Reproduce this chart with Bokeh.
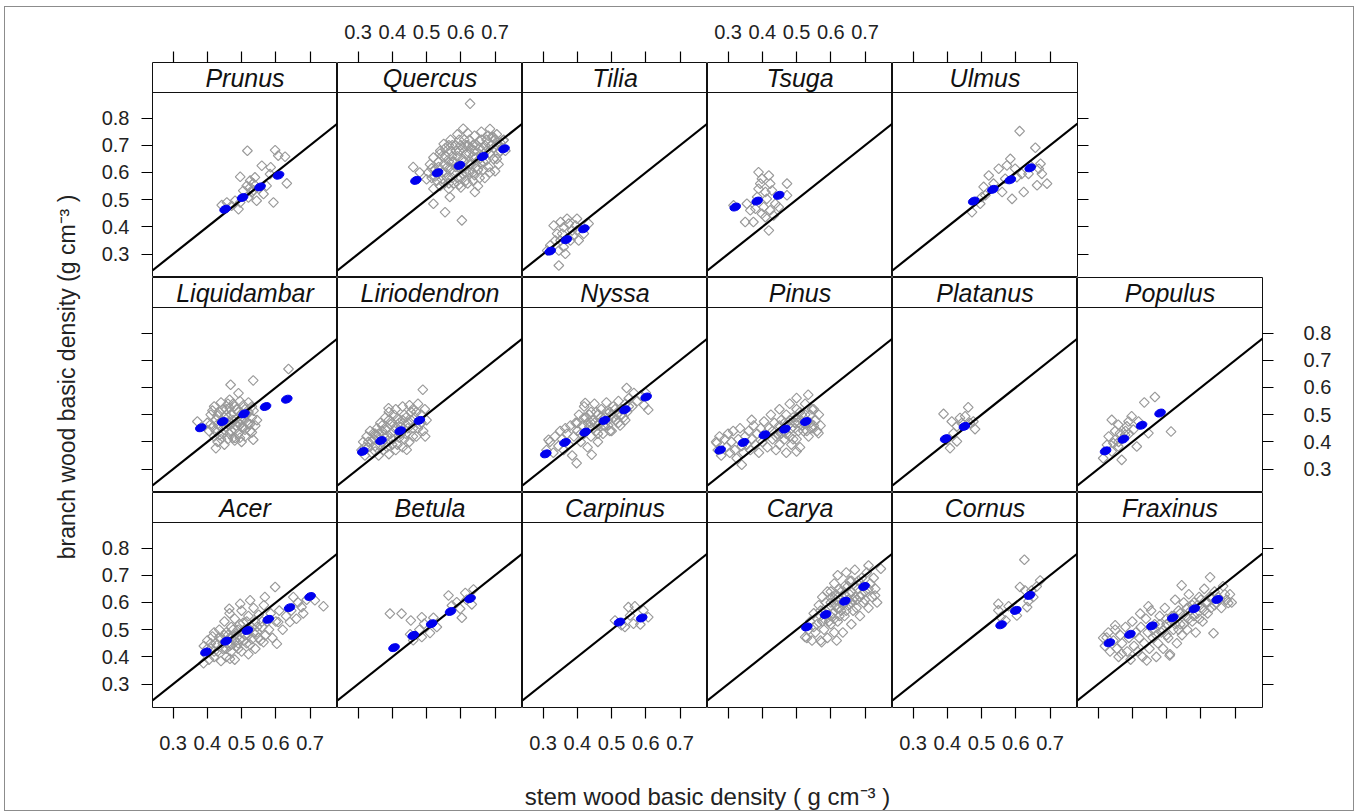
import math
from bokeh.plotting import figure
from bokeh.layouts import row, column
from bokeh.models import Range1d, LinearAxis, FixedTicker, Span, Label, AllLabels
from bokeh.embed import file_html
from bokeh.resources import INLINE

# ---------------- data ----------------
X_TICKS = [0.3, 0.4, 0.5, 0.6, 0.7]
X_TICK_LABELS = ["0.3", "0.4", "0.5", "0.6", "0.7"]
Y_TICKS = [0.3, 0.4, 0.5, 0.6, 0.7, 0.8]
Y_TICK_LABELS = ["0.3", "0.4", "0.5", "0.6", "0.7", "0.8"]
X_TITLE = "stem wood basic density ( g cm\u207b\u00b3 )"
Y_TITLE = "branch wood basic density (g cm\u207b\u00b3 )"

PANEL_ROWS = [
    ["Prunus", "Quercus", "Tilia", "Tsuga", "Ulmus"],
    ["Liquidambar", "Liriodendron", "Nyssa", "Pinus", "Platanus", "Populus"],
    ["Acer", "Betula", "Carpinus", "Carya", "Cornus", "Fraxinus"],
]

PRUNUS_GRAY = [(0.517,0.680),(0.598,0.682),(0.627,0.658),(0.607,0.662),(0.559,0.625),(0.585,0.619),
               (0.496,0.584),(0.525,0.570),(0.534,0.560),(0.515,0.551),(0.481,0.496),(0.471,0.478),
               (0.491,0.465),(0.544,0.496),(0.593,0.490),(0.632,0.560),(0.573,0.551),(0.442,0.480),
               (0.530,0.527),(0.564,0.521),(0.583,0.594),(0.505,0.533),(0.520,0.508),(0.496,0.490),
               (0.457,0.490),(0.539,0.582),(0.525,0.545),(0.535,0.535),(0.550,0.540)]
PRUNUS_BLUE = [(0.452,0.465),(0.503,0.508),(0.554,0.547),(0.608,0.590)]

QUERCUS_GRAY = [(0.627,0.853),(0.461,0.620),(0.554,0.454),(0.603,0.424),(0.520,0.485),(0.641,0.528),
                (0.568,0.510),(0.607,0.761),(0.539,0.669),(0.695,0.730),(0.724,0.718),(0.480,0.600),
                (0.505,0.600),(0.510,0.630),(0.515,0.580),(0.520,0.655),(0.525,0.610),(0.500,0.575),
                (0.530,0.570),(0.520,0.540),(0.535,0.640),(0.540,0.680),(0.545,0.600),(0.550,0.560),
                (0.550,0.705),(0.555,0.660),(0.560,0.620),(0.560,0.580),(0.565,0.540),(0.540,0.550),
                (0.570,0.720),(0.570,0.680),(0.575,0.640),(0.580,0.600),(0.580,0.560),(0.585,0.700),
                (0.590,0.740),(0.590,0.660),(0.595,0.620),(0.600,0.580),(0.600,0.545),(0.605,0.690),
                (0.610,0.720),(0.610,0.640),(0.615,0.600),(0.620,0.560),(0.620,0.745),(0.625,0.670),
                (0.630,0.630),(0.635,0.700),(0.640,0.590),(0.640,0.735),(0.645,0.655),(0.650,0.550),
                (0.650,0.610),(0.655,0.690),(0.660,0.750),(0.660,0.720),(0.665,0.640),(0.670,0.580),
                (0.675,0.680),(0.680,0.620),(0.680,0.735),(0.690,0.700),(0.695,0.650),(0.700,0.605),
                (0.705,0.740),(0.710,0.670),(0.715,0.710),(0.720,0.690),(0.725,0.720),(0.730,0.680),
                (0.700,0.720),(0.685,0.760),(0.590,0.580),(0.625,0.600),(0.600,0.700),(0.570,0.610),
                (0.640,0.680),(0.660,0.660),(0.550,0.630),(0.530,0.600),(0.615,0.665),(0.635,0.570),
                (0.575,0.660),(0.605,0.615),(0.655,0.715),(0.670,0.700),(0.620,0.700),(0.565,0.700),
                (0.690,0.730),(0.710,0.630),(0.515,0.615),(0.525,0.585),(0.535,0.620),(0.545,0.660),
                (0.545,0.575),(0.555,0.600),(0.555,0.690),(0.565,0.640),(0.565,0.560),(0.575,0.700),
                (0.575,0.580),(0.585,0.620),(0.585,0.680),(0.595,0.720),(0.595,0.555),(0.605,0.650),
                (0.605,0.595),(0.615,0.700),(0.615,0.570),(0.625,0.630),(0.625,0.720),(0.635,0.600),
                (0.635,0.660),(0.645,0.700),(0.645,0.620),(0.655,0.580),(0.655,0.650),(0.665,0.690),
                (0.665,0.610),(0.675,0.645),(0.675,0.720),(0.685,0.670),(0.685,0.600),(0.695,0.690),
                (0.705,0.650),(0.705,0.700),(0.715,0.680),(0.595,0.680),(0.630,0.690),(0.580,0.640),
                (0.660,0.630)]
QUERCUS_BLUE = [(0.469,0.571),(0.532,0.599),(0.596,0.626),(0.664,0.659),(0.726,0.687)]

TILIA_GRAY = [(0.346,0.258),(0.399,0.430),(0.370,0.430),(0.351,0.418),(0.331,0.405),(0.360,0.399),
              (0.385,0.387),(0.341,0.375),(0.380,0.350),(0.404,0.350),(0.360,0.326),(0.365,0.301),
              (0.321,0.332),(0.312,0.313),(0.351,0.350),(0.433,0.412),(0.399,0.387),(0.375,0.412),
              (0.389,0.369),(0.346,0.313),(0.336,0.350),(0.356,0.375),(0.395,0.405),(0.419,0.375)]
TILIA_BLUE = [(0.321,0.311),(0.368,0.353),(0.419,0.393)]

TSUGA_GRAY = [(0.419,0.589),(0.399,0.577),(0.394,0.559),(0.423,0.559),(0.389,0.540),(0.409,0.528),
              (0.428,0.534),(0.472,0.559),(0.385,0.510),(0.413,0.503),(0.438,0.485),(0.404,0.473),
              (0.355,0.485),(0.423,0.461),(0.399,0.448),(0.433,0.442),(0.350,0.418),(0.374,0.418),
              (0.419,0.387),(0.472,0.516),(0.365,0.461),(0.316,0.479),(0.448,0.473),(0.409,0.436),
              (0.389,0.601),(0.380,0.467)]
TSUGA_BLUE = [(0.321,0.473),(0.385,0.495),(0.448,0.516)]

ULMUS_GRAY = [(0.611,0.752),(0.657,0.691),(0.584,0.650),(0.550,0.614),(0.521,0.589),(0.574,0.626),
              (0.598,0.614),(0.617,0.595),(0.672,0.632),(0.676,0.595),(0.691,0.559),(0.662,0.553),
              (0.623,0.528),(0.589,0.503),(0.560,0.528),(0.535,0.559),(0.506,0.547),(0.501,0.510),
              (0.472,0.454),(0.511,0.516),(0.637,0.595),(0.569,0.577),(0.642,0.626),(0.603,0.583),
              (0.667,0.614),(0.496,0.485)]
ULMUS_BLUE = [(0.477,0.495),(0.533,0.538),(0.584,0.573),(0.642,0.617)]

LIQUIDAMBAR_GRAY = [(0.371,0.475),(0.468,0.610),(0.534,0.626),(0.491,0.579),(0.637,0.668),(0.425,0.377),
                    (0.534,0.408),(0.481,0.414),(0.400,0.470),(0.405,0.440),(0.410,0.500),(0.415,0.455),
                    (0.420,0.420),(0.420,0.530),(0.425,0.480),(0.430,0.400),(0.435,0.510),(0.440,0.455),
                    (0.440,0.545),(0.445,0.430),(0.450,0.490),(0.450,0.390),(0.455,0.520),(0.460,0.465),
                    (0.460,0.410),(0.465,0.555),(0.470,0.500),(0.470,0.440),(0.475,0.480),(0.480,0.530),
                    (0.480,0.405),(0.485,0.460),(0.490,0.510),(0.490,0.430),(0.495,0.550),(0.500,0.480),
                    (0.500,0.400),(0.505,0.455),(0.510,0.520),(0.510,0.420),(0.515,0.500),(0.520,0.465),
                    (0.520,0.545),(0.525,0.440),(0.530,0.490),(0.535,0.515),(0.540,0.460),(0.545,0.480),
                    (0.430,0.465),(0.455,0.455),(0.465,0.525),(0.495,0.465),(0.475,0.415),(0.505,0.535),
                    (0.435,0.425),(0.500,0.505),(0.455,0.500),(0.485,0.485),(0.410,0.465),(0.425,0.440),
                    (0.430,0.495),(0.440,0.475),(0.445,0.520),(0.450,0.445),(0.460,0.490),(0.465,0.430),
                    (0.470,0.465),(0.475,0.540),(0.480,0.445),(0.485,0.520),(0.490,0.470),(0.495,0.415),
                    (0.500,0.455),(0.505,0.490),(0.510,0.445),(0.515,0.475),(0.520,0.510),(0.525,0.465),
                    (0.530,0.435),(0.460,0.540),(0.440,0.410),(0.415,0.515),(0.530,0.530)]
LIQUIDAMBAR_BLUE = [(0.381,0.452),(0.445,0.475),(0.507,0.503),(0.570,0.530),(0.632,0.557)]

LIRIODENDRON_GRAY = [(0.489,0.592),(0.496,0.420),(0.442,0.371),(0.389,0.524),(0.345,0.432),
                     (0.310,0.370),(0.315,0.400),(0.320,0.350),(0.325,0.420),(0.330,0.380),(0.335,0.440),
                     (0.340,0.360),(0.345,0.410),(0.350,0.385),(0.355,0.450),(0.360,0.350),(0.360,0.430),
                     (0.365,0.470),(0.370,0.400),(0.375,0.370),(0.380,0.490),(0.380,0.445),(0.385,0.420),
                     (0.390,0.355),(0.390,0.510),(0.395,0.465),(0.400,0.390),(0.405,0.440),(0.410,0.520),
                     (0.410,0.370),(0.415,0.485),(0.420,0.415),(0.425,0.455),(0.430,0.530),(0.430,0.380),
                     (0.435,0.500),(0.440,0.430),(0.445,0.470),(0.450,0.400),(0.450,0.535),(0.455,0.510),
                     (0.460,0.450),(0.465,0.490),(0.470,0.420),(0.475,0.540),(0.480,0.465),(0.485,0.500),
                     (0.490,0.440),(0.495,0.520),(0.500,0.480),(0.350,0.430),(0.400,0.410),(0.420,0.470),
                     (0.440,0.490),(0.370,0.440),(0.330,0.400),(0.460,0.520),(0.390,0.480),(0.340,0.400),
                     (0.350,0.365),(0.355,0.420),(0.365,0.390),(0.370,0.460),(0.375,0.425),(0.385,0.380),
                     (0.395,0.430),(0.400,0.470),(0.405,0.500),(0.410,0.455),(0.415,0.390),(0.425,0.430),
                     (0.430,0.480),(0.435,0.410),(0.445,0.450),(0.455,0.480),(0.460,0.420),(0.470,0.510),
                     (0.475,0.450),(0.485,0.470),(0.320,0.380)]
LIRIODENDRON_BLUE = [(0.314,0.365),(0.367,0.405),(0.423,0.441),(0.479,0.479)]

NYSSA_GRAY = [(0.544,0.598),(0.607,0.518),(0.398,0.322),(0.442,0.353),(0.316,0.408),(0.423,0.543),
              (0.310,0.370),(0.320,0.400),(0.330,0.360),(0.335,0.420),(0.345,0.385),(0.350,0.440),
              (0.355,0.410),(0.360,0.370),(0.365,0.450),(0.370,0.430),(0.375,0.390),(0.380,0.460),
              (0.385,0.350),(0.390,0.420),(0.395,0.470),(0.400,0.440),(0.405,0.500),(0.410,0.400),
              (0.415,0.460),(0.420,0.530),(0.420,0.430),(0.425,0.490),(0.430,0.380),(0.435,0.455),
              (0.440,0.510),(0.440,0.420),(0.445,0.480),(0.450,0.540),(0.455,0.440),(0.460,0.500),
              (0.460,0.400),(0.465,0.470),(0.470,0.520),(0.475,0.430),(0.480,0.490),(0.485,0.545),
              (0.490,0.460),(0.495,0.510),(0.500,0.440),(0.505,0.530),(0.510,0.480),(0.515,0.500),
              (0.520,0.550),(0.525,0.460),(0.530,0.520),(0.535,0.490),(0.540,0.540),(0.545,0.510),
              (0.550,0.560),(0.560,0.530),(0.565,0.580),(0.575,0.550),(0.585,0.570),(0.595,0.535),
              (0.600,0.580),(0.420,0.490),(0.450,0.470),(0.480,0.460),(0.500,0.500),(0.400,0.470),
              (0.410,0.430),(0.430,0.470),(0.435,0.500),(0.445,0.450),(0.455,0.510),(0.460,0.430),
              (0.470,0.490),(0.475,0.460),(0.485,0.510),(0.490,0.480),(0.495,0.440),(0.505,0.490),
              (0.510,0.520),(0.520,0.470),(0.530,0.500),(0.540,0.480),(0.550,0.530),(0.460,0.460),
              (0.440,0.470)]
NYSSA_BLUE = [(0.308,0.356),(0.364,0.398),(0.423,0.436),(0.479,0.479),(0.539,0.518),(0.601,0.565)]

PINUS_GRAY = [(0.500,0.561),(0.534,0.573),(0.340,0.316),(0.500,0.365),(0.564,0.432),(0.267,0.396),
              (0.369,0.481),(0.265,0.400),(0.270,0.370),(0.275,0.420),(0.280,0.350),(0.290,0.410),
              (0.295,0.380),(0.300,0.430),(0.305,0.360),(0.310,0.400),(0.315,0.440),(0.320,0.370),
              (0.325,0.340),(0.330,0.410),(0.335,0.450),(0.340,0.385),(0.345,0.360),(0.350,0.420),
              (0.355,0.390),(0.360,0.440),(0.365,0.370),(0.370,0.410),(0.375,0.460),(0.380,0.390),
              (0.385,0.430),(0.390,0.360),(0.395,0.450),(0.400,0.400),(0.405,0.475),(0.410,0.420),
              (0.415,0.380),(0.420,0.450),(0.425,0.500),(0.430,0.410),(0.435,0.470),(0.440,0.370),
              (0.445,0.430),(0.450,0.520),(0.450,0.390),(0.455,0.480),(0.460,0.440),(0.465,0.410),
              (0.470,0.500),(0.470,0.360),(0.475,0.460),(0.480,0.540),(0.480,0.420),(0.485,0.390),
              (0.490,0.490),(0.495,0.450),(0.500,0.520),(0.500,0.410),(0.505,0.470),(0.510,0.380),
              (0.515,0.500),(0.520,0.440),(0.525,0.540),(0.530,0.470),(0.535,0.420),(0.540,0.500),
              (0.545,0.450),(0.550,0.520),(0.555,0.480),(0.560,0.440),(0.565,0.500),(0.570,0.460),
              (0.430,0.440),(0.440,0.420),(0.450,0.460),(0.455,0.430),(0.465,0.470),(0.470,0.430),
              (0.480,0.480),(0.485,0.450),(0.490,0.410),(0.500,0.490),(0.505,0.440),(0.510,0.510),
              (0.520,0.470),(0.525,0.500),(0.530,0.440),(0.540,0.470),(0.545,0.520),(0.550,0.460),
              (0.495,0.470),(0.515,0.460)]
PINUS_BLUE = [(0.277,0.370),(0.345,0.398),(0.406,0.426),(0.466,0.447),(0.527,0.475)]

PLATANUS_GRAY = [(0.389,0.503),(0.461,0.527),(0.413,0.475),(0.437,0.488),(0.428,0.457),(0.466,0.469),
                 (0.481,0.447),(0.408,0.377),(0.428,0.402),(0.452,0.494),(0.476,0.475),(0.442,0.469),
                 (0.418,0.432),(0.398,0.408)]
PLATANUS_BLUE = [(0.395,0.412),(0.450,0.457)]

POPULUS_GRAY = [(0.466,0.565),(0.435,0.545),(0.513,0.438),(0.340,0.481),(0.359,0.463),(0.398,0.494),
                (0.384,0.457),(0.364,0.432),(0.331,0.420),(0.350,0.408),(0.326,0.389),(0.369,0.334),
                (0.413,0.383),(0.447,0.432),(0.359,0.383),(0.340,0.365),(0.379,0.426),(0.403,0.445),
                (0.315,0.340),(0.418,0.475),(0.389,0.475),(0.350,0.440),(0.370,0.410),(0.360,0.400),
                (0.380,0.440),(0.390,0.430),(0.345,0.395)]
POPULUS_BLUE = [(0.322,0.367),(0.374,0.410),(0.427,0.461),(0.481,0.506)]

ACER_GRAY = [(0.598,0.657),(0.464,0.577),(0.525,0.608),(0.568,0.620),(0.603,0.448),(0.739,0.586),
             (0.714,0.608),(0.675,0.583),(0.641,0.528),(0.607,0.528),(0.564,0.454),(0.466,0.393),
             (0.389,0.377),(0.496,0.595),(0.651,0.620),(0.390,0.440),(0.395,0.410),(0.400,0.460),
             (0.405,0.390),(0.410,0.430),(0.415,0.475),(0.420,0.400),(0.425,0.450),(0.430,0.420),
             (0.435,0.500),(0.440,0.385),(0.440,0.465),(0.445,0.430),(0.450,0.530),(0.455,0.400),
             (0.455,0.490),(0.460,0.450),(0.465,0.560),(0.470,0.420),(0.470,0.510),(0.475,0.475),
             (0.480,0.390),(0.480,0.540),(0.485,0.440),(0.490,0.500),(0.495,0.465),(0.500,0.570),
             (0.500,0.420),(0.505,0.525),(0.510,0.480),(0.515,0.450),(0.520,0.550),(0.520,0.410),
             (0.525,0.500),(0.530,0.465),(0.535,0.580),(0.540,0.430),(0.540,0.530),(0.545,0.490),
             (0.550,0.555),(0.555,0.460),(0.560,0.510),(0.565,0.590),(0.570,0.480),(0.575,0.530),
             (0.580,0.500),(0.585,0.560),(0.590,0.470),(0.600,0.530),(0.610,0.570),(0.620,0.500),
             (0.630,0.550),(0.645,0.570),(0.660,0.540),(0.665,0.600),(0.680,0.560),(0.690,0.610),
             (0.420,0.490),(0.460,0.480),(0.490,0.450),(0.500,0.490),(0.530,0.510),(0.400,0.430),
             (0.410,0.450),(0.420,0.420),(0.430,0.445),(0.435,0.470),(0.445,0.450),(0.450,0.480),
             (0.455,0.430),(0.465,0.470),(0.470,0.445),(0.475,0.500),(0.480,0.460),(0.485,0.485),
             (0.490,0.430),(0.495,0.520),(0.505,0.460),(0.510,0.500),(0.515,0.530),(0.520,0.480),
             (0.525,0.445),(0.535,0.490),(0.545,0.510),(0.550,0.470),(0.560,0.530),(0.465,0.440)]
ACER_BLUE = [(0.396,0.418),(0.455,0.458),(0.517,0.497),(0.578,0.538),(0.640,0.581),(0.700,0.622)]

BETULA_GRAY = [(0.393,0.559),(0.427,0.559),(0.454,0.534),(0.486,0.546),(0.452,0.483),(0.479,0.500),
               (0.493,0.522),(0.520,0.544),(0.510,0.488),(0.486,0.473),(0.564,0.626),(0.588,0.601),
               (0.603,0.544),(0.613,0.635),(0.637,0.648),(0.632,0.593),(0.574,0.589),(0.598,0.577),
               (0.530,0.510),(0.461,0.461),(0.617,0.610)]
BETULA_BLUE = [(0.405,0.434),(0.461,0.479),(0.515,0.522),(0.570,0.567),(0.627,0.614)]

CARPINUS_GRAY = [(0.549,0.583),(0.568,0.586),(0.593,0.571),(0.510,0.534),(0.539,0.510),(0.564,0.522),
                 (0.607,0.546),(0.584,0.519),(0.554,0.552),(0.529,0.516)]
CARPINUS_BLUE = [(0.523,0.528),(0.588,0.543)]

CARYA_GRAY = [(0.746,0.724),(0.710,0.736),(0.525,0.473),(0.573,0.454),(0.617,0.460),(0.729,0.626),
              (0.530,0.470),(0.535,0.500),(0.540,0.530),(0.545,0.460),(0.550,0.560),(0.555,0.490),
              (0.560,0.520),(0.565,0.590),(0.570,0.460),(0.570,0.550),(0.575,0.620),(0.580,0.500),
              (0.585,0.570),(0.590,0.470),(0.590,0.640),(0.595,0.530),(0.600,0.600),(0.605,0.560),
              (0.610,0.490),(0.610,0.670),(0.615,0.630),(0.620,0.530),(0.620,0.700),(0.625,0.580),
              (0.630,0.610),(0.635,0.490),(0.640,0.660),(0.640,0.550),(0.645,0.710),(0.650,0.590),
              (0.655,0.630),(0.660,0.520),(0.660,0.680),(0.665,0.570),(0.670,0.720),(0.675,0.610),
              (0.680,0.650),(0.685,0.550),(0.690,0.690),(0.695,0.600),(0.700,0.640),(0.705,0.710),
              (0.710,0.580),(0.715,0.670),(0.720,0.620),(0.725,0.690),(0.730,0.650),(0.735,0.600),
              (0.600,0.520),(0.580,0.540),(0.630,0.570),(0.650,0.660),(0.670,0.620),(0.600,0.640),
              (0.625,0.650),(0.550,0.510),(0.690,0.630),(0.640,0.600),(0.615,0.590),(0.660,0.600),
              (0.575,0.530),(0.585,0.600),(0.595,0.580),(0.600,0.550),(0.605,0.620),(0.610,0.540),
              (0.615,0.610),(0.620,0.580),(0.625,0.550),(0.630,0.640),(0.635,0.590),(0.640,0.630),
              (0.645,0.570),(0.650,0.610),(0.655,0.680),(0.660,0.640),(0.665,0.610),(0.670,0.660),
              (0.675,0.580),(0.680,0.680),(0.685,0.620),(0.695,0.660),(0.700,0.610),(0.710,0.650),
              (0.620,0.620),(0.570,0.570)]
CARYA_BLUE = [(0.530,0.510),(0.585,0.556),(0.641,0.605),(0.697,0.659)]

CORNUS_GRAY = [(0.625,0.757),(0.612,0.657),(0.549,0.595),(0.549,0.571),(0.579,0.586),(0.603,0.552),
               (0.633,0.583),(0.646,0.644),(0.671,0.681),(0.661,0.659),(0.637,0.605),(0.570,0.534),
               (0.556,0.546),(0.651,0.620),(0.627,0.644)]
CORNUS_BLUE = [(0.557,0.518),(0.600,0.571),(0.640,0.626)]

FRAXINUS_GRAY = [(0.627,0.693),(0.544,0.663),(0.447,0.586),(0.423,0.559),(0.637,0.487),(0.680,0.598),
                 (0.509,0.405),(0.442,0.387),(0.369,0.411),(0.325,0.471),(0.350,0.516),
                 (0.315,0.470),(0.320,0.440),(0.330,0.490),(0.335,0.420),(0.345,0.460),(0.350,0.500),
                 (0.355,0.430),(0.360,0.400),(0.365,0.480),(0.370,0.450),(0.380,0.510),(0.385,0.420),
                 (0.390,0.470),(0.395,0.390),(0.400,0.530),(0.405,0.440),(0.410,0.490),(0.415,0.420),
                 (0.420,0.470),(0.425,0.510),(0.430,0.400),(0.435,0.450),(0.440,0.540),(0.445,0.490),
                 (0.450,0.430),(0.455,0.570),(0.460,0.470),(0.465,0.520),(0.470,0.400),(0.475,0.450),
                 (0.480,0.550),(0.485,0.490),(0.490,0.430),(0.495,0.580),(0.500,0.520),(0.505,0.470),
                 (0.510,0.410),(0.515,0.550),(0.520,0.500),(0.525,0.610),(0.530,0.450),(0.535,0.570),
                 (0.540,0.520),(0.545,0.480),(0.550,0.600),(0.555,0.550),(0.560,0.500),(0.565,0.630),
                 (0.570,0.570),(0.575,0.530),(0.580,0.600),(0.585,0.490),(0.590,0.560),(0.595,0.620),
                 (0.600,0.580),(0.605,0.530),(0.610,0.650),(0.615,0.600),(0.620,0.560),(0.625,0.620),
                 (0.630,0.580),(0.640,0.640),(0.645,0.600),(0.650,0.620),(0.660,0.580),(0.665,0.660),
                 (0.675,0.610),(0.685,0.630),(0.690,0.600),(0.460,0.500),(0.470,0.480),(0.480,0.520),
                 (0.490,0.500),(0.500,0.480),(0.510,0.530),(0.520,0.550),(0.525,0.520),(0.535,0.500),
                 (0.540,0.560),(0.550,0.520),(0.560,0.580),(0.565,0.540),(0.575,0.590),(0.580,0.550),
                 (0.590,0.590),(0.595,0.540),(0.600,0.610),(0.610,0.570),(0.620,0.600),(0.630,0.620),
                 (0.640,0.590),(0.655,0.610),(0.670,0.630),(0.500,0.540)]
FRAXINUS_BLUE = [(0.333,0.452),(0.393,0.483),(0.457,0.514),(0.518,0.544),(0.581,0.577),(0.648,0.611)]

PANEL_DATA = {
    "Prunus": (PRUNUS_GRAY, PRUNUS_BLUE), "Quercus": (QUERCUS_GRAY, QUERCUS_BLUE),
    "Tilia": (TILIA_GRAY, TILIA_BLUE), "Tsuga": (TSUGA_GRAY, TSUGA_BLUE),
    "Ulmus": (ULMUS_GRAY, ULMUS_BLUE), "Liquidambar": (LIQUIDAMBAR_GRAY, LIQUIDAMBAR_BLUE),
    "Liriodendron": (LIRIODENDRON_GRAY, LIRIODENDRON_BLUE), "Nyssa": (NYSSA_GRAY, NYSSA_BLUE),
    "Pinus": (PINUS_GRAY, PINUS_BLUE), "Platanus": (PLATANUS_GRAY, PLATANUS_BLUE),
    "Populus": (POPULUS_GRAY, POPULUS_BLUE), "Acer": (ACER_GRAY, ACER_BLUE),
    "Betula": (BETULA_GRAY, BETULA_BLUE), "Carpinus": (CARPINUS_GRAY, CARPINUS_BLUE),
    "Carya": (CARYA_GRAY, CARYA_BLUE), "Cornus": (CORNUS_GRAY, CORNUS_BLUE),
    "Fraxinus": (FRAXINUS_GRAY, FRAXINUS_BLUE),
}

# ---------------- style / geometry ----------------
X_LIM = (0.24, 0.78)
Y_LIM = (0.214, 0.894)
FRAME_W, PANEL_H, STRIP_H = 185, 185, 30
YT_W = 80                      # width of the y-title strip
LEFT, RIGHT, TOP, BOTTOM, TITLE_H = 67, 91, 55, 55, 48
INNER_H = TOP + 3 * (PANEL_H + STRIP_H) + BOTTOM + TITLE_H
FONT = "Liberation Sans"
TXT = "#222222"
GRAY = "#999999"
BLUE = "#0000ee"
Y_END = Y_LIM[1] + (Y_LIM[1] - Y_LIM[0]) * STRIP_H / PANEL_H


def make_axis(ticks, labels, show, standoff):
    ax = LinearAxis(ticker=FixedTicker(ticks=ticks), major_tick_in=0, major_tick_out=11,
                    minor_tick_in=0, minor_tick_out=0, axis_line_color=None,
                    major_tick_line_color="black", major_tick_line_width=1.2,
                    major_label_text_font=FONT, major_label_text_font_size="20px",
                    major_label_text_color=TXT, major_label_standoff=standoff,
                    major_label_policy=AllLabels())
    if show:
        ax.major_label_overrides = {t: l for t, l in zip(ticks, labels)}
    else:
        ax.major_label_overrides = {t: "" for t in ticks}
    return ax


def panel(name, r, c, ncols):
    gray, blue = PANEL_DATA[name]
    p = figure(frame_width=FRAME_W, frame_height=PANEL_H + STRIP_H,
               x_range=Range1d(*X_LIM), y_range=Range1d(Y_LIM[0], Y_END),
               toolbar_location=None, output_backend="svg",
               x_axis_location=None, y_axis_location=None, min_border=0,
               outline_line_color="#111111", outline_line_width=1,
               background_fill_color="white", border_fill_color="white")
    p.grid.visible = False
    p.min_border_left = LEFT if c == 0 else 0
    if c == ncols - 1:
        p.min_border_right = RIGHT + (FRAME_W if ncols == 5 else 0)
    else:
        p.min_border_right = 0
    p.min_border_top = TOP if r == 0 else 0
    p.min_border_bottom = BOTTOM if r == 2 else 0

    # axes (lattice alternating)
    if r == 0:
        p.add_layout(make_axis(X_TICKS, X_TICK_LABELS, c in (1, 3), 13), "above")
    if r == 2:
        p.add_layout(make_axis(X_TICKS, X_TICK_LABELS, c in (0, 2, 4), 17), "below")
    if c == 0:
        p.add_layout(make_axis(Y_TICKS, Y_TICK_LABELS, r in (0, 2), 12), "left")
    if c == ncols - 1:
        p.add_layout(make_axis(Y_TICKS, Y_TICK_LABELS, r == 1, 30), "right")

    # strip
    p.add_layout(Span(location=Y_LIM[1], dimension="width", line_color="#111111", line_width=1.2))
    p.add_layout(Label(x=(X_LIM[0] + X_LIM[1]) / 2, y=(Y_LIM[1] + Y_END) / 2, text=name,
                       text_font=FONT, text_font_size="25px", text_font_style="italic",
                       text_color="#111111", text_align="center", text_baseline="middle"))

    gx = [v[0] for v in gray]
    gy = [v[1] for v in gray]
    bx = [v[0] for v in blue]
    by = [v[1] for v in blue]
    p.scatter(gx, gy, marker="square", size=6.9, angle=math.pi / 4, fill_color=None,
              line_color=GRAY, line_width=1.15)
    p.line(x=list(X_LIM), y=list(X_LIM), line_color="black", line_width=2.2)
    p.ellipse(x=bx, y=by, width=11, height=7.5, width_units="screen", height_units="screen",
              angle=0.35, fill_color=BLUE, line_color=BLUE)
    return p


rows = []
for r, names in enumerate(PANEL_ROWS):
    figs = [panel(n, r, c, len(names)) for c, n in enumerate(names)]
    rows.append(row(*figs, spacing=0))

# x-axis title strip
tf = figure(frame_width=FRAME_W * 6, frame_height=TITLE_H, x_range=Range1d(0, 1),
            y_range=Range1d(0, 1), toolbar_location=None, output_backend="svg",
            x_axis_location=None, y_axis_location=None, min_border=0,
            outline_line_color=None, background_fill_color="white", border_fill_color="white")
tf.grid.visible = False
tf.min_border_left = LEFT
tf.min_border_right = RIGHT
tf.add_layout(Label(x=0.5, y=0.29, text=X_TITLE, text_font=FONT, text_font_size="24px",
                    text_color=TXT, text_align="center", text_baseline="middle"))

# y-axis title strip
yt = figure(frame_width=YT_W, frame_height=INNER_H, x_range=Range1d(0, 1),
            y_range=Range1d(0, 1), toolbar_location=None, output_backend="svg",
            x_axis_location=None, y_axis_location=None, min_border=0,
            outline_line_color=None, background_fill_color="white", border_fill_color="white")
yt.grid.visible = False
yt.add_layout(Label(x=61 / YT_W, y=1 - 369.5 / INNER_H, text=Y_TITLE, angle=math.pi / 2,
                    text_font=FONT, text_font_size="23px", text_color=TXT,
                    text_align="center", text_baseline="middle"))

body = column(*rows, tf, spacing=0)
root = row(yt, body, spacing=0,
           styles={"border": "1px solid #8c8c8c", "margin-left": "4px", "margin-top": "6px"})

open("out.html", "w").write(file_html(root, INLINE))
